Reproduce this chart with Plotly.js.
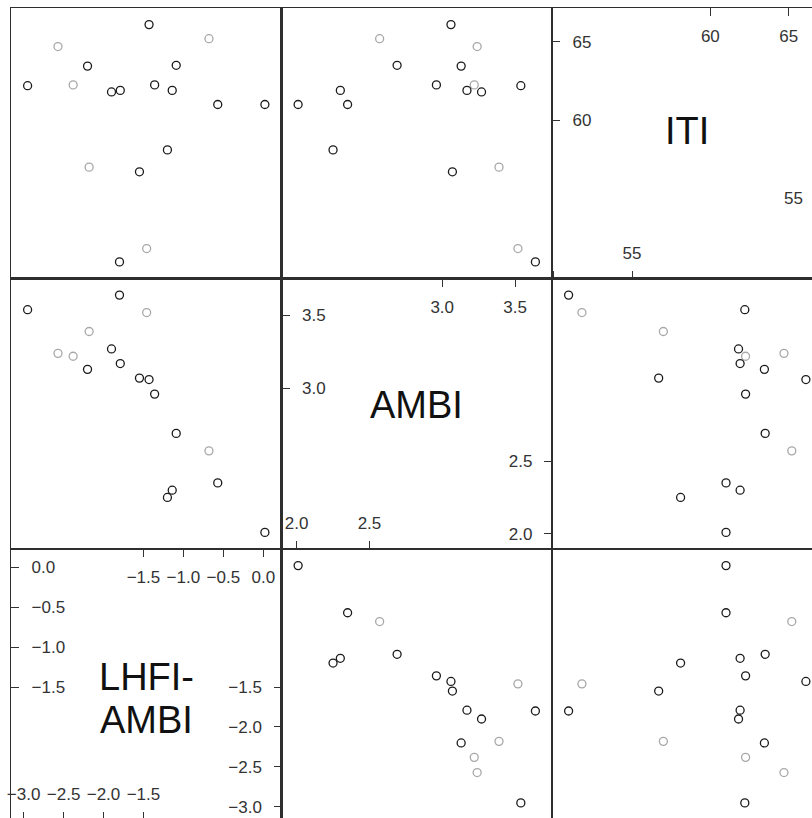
<!DOCTYPE html>
<html>
<head>
<meta charset="utf-8">
<script src="https://cdn.plot.ly/plotly-3.0.1.min.js"></script>
<style>
  html, body { margin: 0; padding: 0; overflow: hidden; background: #fff; width: 812px; height: 818px; }
  #splom { width: 832px; height: 830px; }
</style>
</head>
<body>
<div id="splom"></div>
<script>
// Index scores for each sampling station
const lhfiAmbi = [-1.43, -0.68, -2.57, -2.20, -1.09, -2.95, -2.38, -1.36, -1.90,
                  -1.79, -1.14, -0.57, 0.02, -1.20, -2.18, -1.55, -1.46, -1.80];
const ambi     = [3.06, 2.57, 3.24, 3.13, 2.69, 3.54, 3.22, 2.96, 3.27,
                  3.17, 2.30, 2.35, 2.01, 2.25, 3.39, 3.07, 3.52, 3.64];
const iti      = [66.1, 65.2, 64.7, 63.45, 63.5, 62.2, 62.25, 62.25, 61.8,
                  61.9, 61.9, 61.0, 61.0, 58.1, 57.0, 56.7, 51.8, 50.95];
const group    = ['a', 'b', 'b', 'a', 'a', 'a', 'b', 'a', 'a',
                  'a', 'a', 'a', 'a', 'a', 'b', 'a', 'b', 'a'];

// Scale ticks for each variable
const lhfiTicks = [-3.0, -2.5, -2.0, -1.5, -1.0, -0.5, 0.0];
const ambiTicks = [2.0, 2.5, 3.0, 3.5];
const itiTicks  = [50, 55, 60, 65];

const groupColours = { a: '#1b1b1b', b: '#a8a8a8' };
const pointColours = group.map(g => groupColours[g]);

// Variables in column order (rows run the other way)
const vars = [
  { name: ['LHFI-', 'AMBI'], values: lhfiAmbi, ticks: lhfiTicks, fmt: '.1f', clipLow: false },
  { name: ['AMBI'],          values: ambi,     ticks: ambiTicks, fmt: '.1f', clipLow: false },
  { name: ['ITI'],           values: iti,      ticks: itiTicks,  fmt: 'd',   clipLow: true }
];
// vertical placement (axis-domain fraction) of each name line in its diagonal panel
const namePlacement = [[0.527, 0.368], [0.532], [0.547]];

const W = 832, H = 830;
const colEdges = [11, 281.5, 552, 822.5];
const rowEdges = [8, 278.5, 549, 819.5];
const FONT = 'Liberation Sans, Arial, Helvetica, sans-serif';

// lattice-style range: data extent padded by 7% on each side
function padded(v) {
  const lo = Math.min(...v), hi = Math.max(...v), e = (hi - lo) * 0.07;
  return [lo - e, hi + e];
}

const frame = {
  showline: true, mirror: true, linecolor: '#2e2e2e', linewidth: 1.1,
  showgrid: false, zeroline: false, showticklabels: false, ticks: '', fixedrange: true
};
const tickStyle = {
  ticks: 'inside', ticklen: 8, tickwidth: 1, tickcolor: '#333',
  ticklabelposition: 'inside', showticklabels: true,
  tickfont: { family: FONT, size: 17, color: '#333' }
};
// label distance from the frame, per side
const standoff = { bottom: 9, top: 15, left: 13, right: 12 };

const layout = {
  width: W, height: H, margin: { l: 0, r: 0, t: 0, b: 0 },
  paper_bgcolor: '#fff', plot_bgcolor: '#fff', showlegend: false,
  annotations: []
};
const traces = [];
let overlayId = 10;

for (let r = 0; r < 3; r++) {
  for (let c = 0; c < 3; c++) {
    const k = r * 3 + c + 1;
    const xv = vars[c], yv = vars[2 - r];
    const xd = [colEdges[c] / W, colEdges[c + 1] / W];
    const yd = [1 - rowEdges[r + 1] / H, 1 - rowEdges[r] / H];
    layout['xaxis' + k] = Object.assign({}, frame, { domain: xd, anchor: 'y' + k, range: padded(xv.values) });
    layout['yaxis' + k] = Object.assign({}, frame, { domain: yd, anchor: 'x' + k, range: padded(yv.values) });

    if (xv !== yv) {
      traces.push({
        type: 'scatter', mode: 'markers', x: xv.values, y: yv.values,
        xaxis: 'x' + k, yaxis: 'y' + k, hoverinfo: 'skip',
        marker: { symbol: 'circle-open', size: 8, color: pointColours, line: { width: 1.3 } }
      });
      continue;
    }

    // diagonal panel: variable name, lower half of the scale on bottom/right, upper half on left/top
    const n = Math.ceil(xv.ticks.length / 2);
    const lower = xv.ticks.slice(0, n), upper = xv.ticks.slice(-n);
    const range = padded(xv.values);
    // labels of the lower half that fall on the panel corner are cut by the frame
    const lowOverflow = xv.clipLow ? 'hide past domain' : 'allow';
    Object.assign(layout['xaxis' + k], tickStyle, {
      side: 'bottom', tickvals: lower, tickformat: xv.fmt, ticklabeloverflow: lowOverflow,
      ticklabelstandoff: standoff.bottom
    });
    Object.assign(layout['yaxis' + k], tickStyle, {
      side: 'left', tickvals: upper, tickformat: xv.fmt, ticklabeloverflow: 'allow',
      ticklabelstandoff: standoff.left
    });
    const o = overlayId++;
    layout['xaxis' + o] = Object.assign({}, tickStyle, {
      overlaying: 'x' + k, anchor: 'y' + k, side: 'top', range, tickvals: upper, tickformat: xv.fmt,
      showline: false, showgrid: false, zeroline: false, ticklabeloverflow: 'allow', fixedrange: true,
      ticklabelstandoff: standoff.top
    });
    layout['yaxis' + o] = Object.assign({}, tickStyle, {
      overlaying: 'y' + k, anchor: 'x' + k, side: 'right', range, tickvals: lower, tickformat: xv.fmt,
      showline: false, showgrid: false, zeroline: false, ticklabeloverflow: lowOverflow, fixedrange: true,
      ticklabelstandoff: standoff.right
    });
    traces.push({ type: 'scatter', mode: 'markers', x: [], y: [], xaxis: 'x' + k, yaxis: 'y' + k });
    traces.push({ type: 'scatter', mode: 'markers', x: [], y: [], xaxis: 'x' + o, yaxis: 'y' + k });
    traces.push({ type: 'scatter', mode: 'markers', x: [], y: [], xaxis: 'x' + k, yaxis: 'y' + o });

    xv.name.forEach((line, i) => {
      layout.annotations.push({
        text: line, showarrow: false,
        xref: 'x' + k + ' domain', yref: 'y' + k + ' domain',
        x: 0.5, y: namePlacement[c][i], xanchor: 'center', yanchor: 'middle',
        font: { family: FONT, size: 38, color: '#111' }
      });
    });
  }
}

Plotly.newPlot('splom', traces, layout, { displayModeBar: false, staticPlot: true });
</script>
</body>
</html>
